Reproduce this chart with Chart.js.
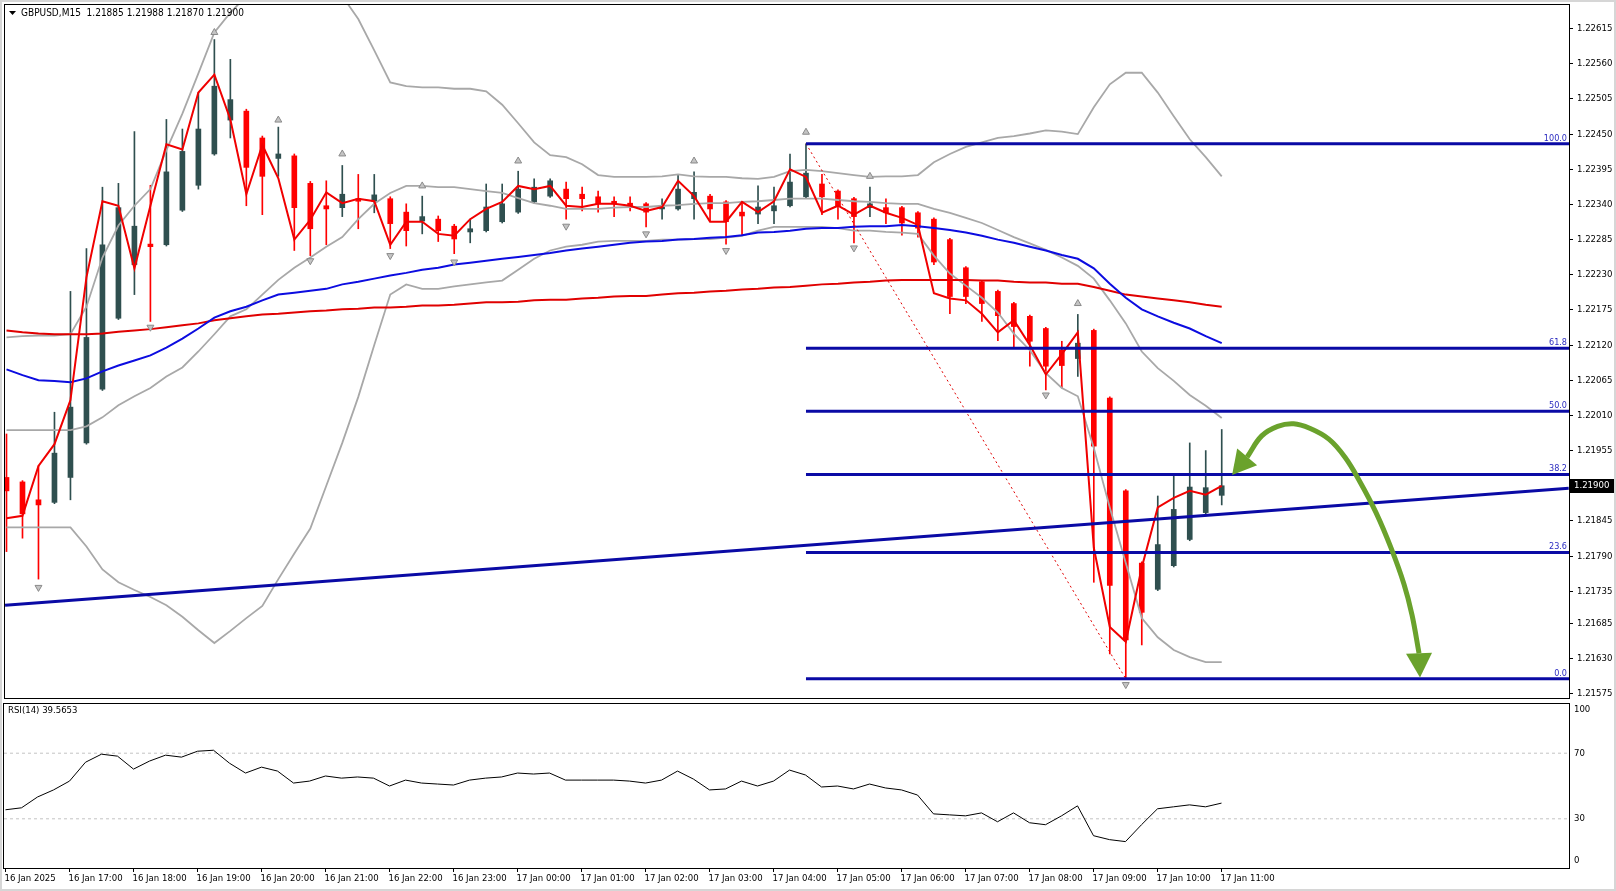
<!DOCTYPE html>
<html>
<head>
<meta charset="utf-8">
<title>GBPUSD,M15</title>
<script src="https://cdn.jsdelivr.net/npm/chart.js@4.4.1/dist/chart.umd.min.js"></script>
<style>
  html, body { margin: 0; padding: 0; background: #ffffff; }
  #wrap { position: relative; width: 1616px; height: 891px; overflow: hidden; background: #ffffff; }
  #main { position: absolute; left: 0; top: 0; }
  #rsi { position: absolute; left: 0; top: 702px; }
  #edge { position: absolute; left: 0; top: 0; width: 1612px; height: 887px; border: 2px solid #d6d6d6; pointer-events: none; }
</style>
</head>
<body>
<div id="wrap">
  <canvas id="main" width="1616" height="703"></canvas>
  <canvas id="rsi" width="1616" height="189"></canvas>
  <div id="edge"></div>
</div>
<script>
// GBPUSD M15, 16 Jan 16:00 .. 17 Jan 11:00 (77 bars)
const barOpen = [
  1.21913, 1.21906, 1.21878, 1.21874, 1.21913, 1.21967, 1.22051, 1.22162, 1.22246, 1.22278,
  1.22277, 1.22331, 1.22370, 1.22419, 1.22472, 1.22486, 1.22444, 1.22412, 1.22416, 1.22373,
  1.22338, 1.22335, 1.22349, 1.22345, 1.22349, 1.22328, 1.22314, 1.22317, 1.22306, 1.22297,
  1.22299, 1.22313, 1.22328, 1.22344, 1.22353, 1.22364, 1.22356, 1.22352, 1.22345, 1.22342,
  1.22341, 1.22333, 1.22333, 1.22349, 1.22353, 1.22344, 1.22328, 1.22325, 1.22330, 1.22338,
  1.22352, 1.22372, 1.22361, 1.22349, 1.22335, 1.22335, 1.22335, 1.22327, 1.22317, 1.22285,
  1.22241, 1.22219, 1.22204, 1.22185, 1.22165, 1.22146, 1.22112, 1.22099, 1.22143, 1.22037,
  1.21892, 1.21779, 1.21738, 1.21775, 1.21816, 1.21858, 1.21885
];
const barHigh = [
  1.21981, 1.21908, 1.21931, 1.22015, 1.22204, 1.22271, 1.22367, 1.22373, 1.22454, 1.22370,
  1.22473, 1.22458, 1.22515, 1.22598, 1.22567, 1.22489, 1.22447, 1.22461, 1.22419, 1.22376,
  1.22377, 1.22401, 1.22387, 1.22387, 1.22352, 1.22341, 1.22353, 1.22322, 1.22309, 1.22317,
  1.22372, 1.22372, 1.22392, 1.22380, 1.22380, 1.22375, 1.22367, 1.22361, 1.22352, 1.22352,
  1.22343, 1.22349, 1.22387, 1.22391, 1.22356, 1.22346, 1.22344, 1.22369, 1.22367, 1.22419,
  1.22435, 1.22387, 1.22363, 1.22351, 1.22367, 1.22349, 1.22337, 1.22329, 1.22319, 1.22287,
  1.22243, 1.22221, 1.22206, 1.22187, 1.22167, 1.22148, 1.22126, 1.22168, 1.22145, 1.22039,
  1.21894, 1.21781, 1.21884, 1.21916, 1.21967, 1.21955, 1.21988
];
const barLow = [
  1.21797, 1.21818, 1.21754, 1.21872, 1.21878, 1.21965, 1.22049, 1.22160, 1.22199, 1.22157,
  1.22275, 1.22329, 1.22364, 1.22417, 1.22444, 1.22338, 1.22324, 1.22384, 1.22268, 1.22260,
  1.22277, 1.22321, 1.22302, 1.22327, 1.22271, 1.22275, 1.22294, 1.22282, 1.22263, 1.22280,
  1.22297, 1.22311, 1.22326, 1.22342, 1.22351, 1.22317, 1.22330, 1.22328, 1.22321, 1.22330,
  1.22305, 1.22317, 1.22331, 1.22317, 1.22313, 1.22278, 1.22291, 1.22310, 1.22310, 1.22336,
  1.22350, 1.22324, 1.22317, 1.22280, 1.22321, 1.22310, 1.22292, 1.22289, 1.22246, 1.22169,
  1.22185, 1.22157, 1.22127, 1.22117, 1.22087, 1.22050, 1.22053, 1.22071, 1.21749, 1.21637,
  1.21598, 1.21651, 1.21736, 1.21773, 1.21814, 1.21853, 1.21870
];
const barClose = [
  1.21892, 1.21856, 1.21870, 1.21951, 1.22023, 1.22132, 1.22277, 1.22335, 1.22306, 1.22274,
  1.22391, 1.22423, 1.22458, 1.22525, 1.22504, 1.22398, 1.22384, 1.22419, 1.22335, 1.22302,
  1.22333, 1.22356, 1.22345, 1.22355, 1.22310, 1.22299, 1.22321, 1.22299, 1.22286, 1.22302,
  1.22336, 1.22341, 1.22364, 1.22367, 1.22377, 1.22349, 1.22349, 1.22341, 1.22341, 1.22338,
  1.22328, 1.22336, 1.22364, 1.22359, 1.22333, 1.22313, 1.22322, 1.22336, 1.22338, 1.22375,
  1.22389, 1.22352, 1.22338, 1.22321, 1.22341, 1.22327, 1.22311, 1.22303, 1.22250, 1.22196,
  1.22196, 1.22185, 1.22166, 1.22149, 1.22126, 1.22087, 1.22088, 1.22123, 1.21962, 1.21744,
  1.21659, 1.21702, 1.21808, 1.21863, 1.21898, 1.21897, 1.21900
];

// Bollinger bands (gray)
const bandUpper = [
  1.22132, 1.22134, 1.22135, 1.22135, 1.22137, 1.22180, 1.22257, 1.22307, 1.22338, 1.22364,
  1.22425, 1.22482, 1.22545, 1.22609, 1.22640, 1.22666, 1.22691, 1.22707, 1.22710, 1.22704,
  1.22688, 1.22666, 1.22630, 1.22581, 1.22531, 1.22525, 1.22523, 1.22523, 1.22521, 1.22521,
  1.22517, 1.22496, 1.22467, 1.22437, 1.22417, 1.22414, 1.22403, 1.22386, 1.22383, 1.22383,
  1.22383, 1.22384, 1.22387, 1.22384, 1.22383, 1.22383, 1.22381, 1.22380, 1.22383, 1.22392,
  1.22394, 1.22392, 1.22389, 1.22386, 1.22383, 1.22384, 1.22384, 1.22386, 1.22406, 1.22419,
  1.22430, 1.22437, 1.22444, 1.22447, 1.22451, 1.22456, 1.22454, 1.22450, 1.22492, 1.22528,
  1.22546, 1.22546, 1.22515, 1.22478, 1.22442, 1.22414, 1.22384
];
const bandMiddle = [
  1.21987, 1.21987, 1.21987, 1.21987, 1.21987, 1.21993, 1.22007, 1.22026, 1.22040, 1.22053,
  1.22071, 1.22085, 1.22110, 1.22137, 1.22165, 1.22176, 1.22199, 1.22222, 1.22241, 1.22257,
  1.22274, 1.22289, 1.22317, 1.22341, 1.22358, 1.22369, 1.22369, 1.22367, 1.22367, 1.22364,
  1.22361, 1.22358, 1.22350, 1.22342, 1.22338, 1.22333, 1.22333, 1.22333, 1.22335, 1.22336,
  1.22336, 1.22338, 1.22339, 1.22341, 1.22342, 1.22342, 1.22344, 1.22345, 1.22347, 1.22349,
  1.22349, 1.22349, 1.22347, 1.22345, 1.22344, 1.22342, 1.22341, 1.22341, 1.22333, 1.22327,
  1.22319, 1.22311, 1.22300, 1.22289, 1.22279, 1.22269, 1.22257, 1.22244, 1.22224, 1.22190,
  1.22154, 1.22110, 1.22084, 1.22064, 1.22042, 1.22025, 1.22006
];
const bandLower = [
  1.21835, 1.21835, 1.21835, 1.21835, 1.21835, 1.21805, 1.21769, 1.21749, 1.21737, 1.21726,
  1.21713, 1.21695, 1.21674, 1.21654, 1.21673, 1.21693, 1.21712, 1.21754, 1.21794, 1.21833,
  1.21900, 1.21967, 1.22039, 1.22120, 1.22199, 1.22215, 1.22208, 1.22208, 1.22212, 1.22215,
  1.22218, 1.22221, 1.22238, 1.22255, 1.22268, 1.22274, 1.22277, 1.22282, 1.22283, 1.22283,
  1.22283, 1.22285, 1.22285, 1.22286, 1.22286, 1.22288, 1.22291, 1.22299, 1.22305, 1.22305,
  1.22305, 1.22305, 1.22303, 1.22299, 1.22299, 1.22297, 1.22296, 1.22294, 1.22260, 1.22232,
  1.22213, 1.22194, 1.22171, 1.22138, 1.22112, 1.22076, 1.22053, 1.22040, 1.21959, 1.21866,
  1.21779, 1.21693, 1.21663, 1.21643, 1.21632, 1.21624, 1.21624
];

// moving averages
const maBlue = [
  1.22082, 1.22073, 1.22065, 1.22064, 1.22062, 1.22068, 1.22079, 1.22088, 1.22096, 1.22104,
  1.22116, 1.22130, 1.22146, 1.22163, 1.22173, 1.22180, 1.22190, 1.22199, 1.22202, 1.22205,
  1.22208, 1.22215, 1.22219, 1.22224, 1.22229, 1.22233, 1.22238, 1.22241, 1.22246, 1.22249,
  1.22252, 1.22255, 1.22258, 1.22261, 1.22264, 1.22268, 1.22271, 1.22274, 1.22277, 1.22280,
  1.22282, 1.22283, 1.22285, 1.22286, 1.22288, 1.22289, 1.22292, 1.22296, 1.22297, 1.22299,
  1.22302, 1.22303, 1.22303, 1.22305, 1.22306, 1.22306, 1.22308, 1.22306, 1.22303, 1.22300,
  1.22296, 1.22291, 1.22285, 1.22280, 1.22274, 1.22268, 1.22261, 1.22255, 1.22240, 1.22216,
  1.22194, 1.22176, 1.22165, 1.22155, 1.22146, 1.22134, 1.22123
];
const maRed = [
  1.22143, 1.22140, 1.22138, 1.22137, 1.22137, 1.22137, 1.22138, 1.22141, 1.22143, 1.22145,
  1.22148, 1.22151, 1.22154, 1.22159, 1.22162, 1.22165, 1.22168, 1.22169, 1.22171, 1.22173,
  1.22174, 1.22176, 1.22177, 1.22179, 1.22179, 1.22180, 1.22182, 1.22182, 1.22183, 1.22185,
  1.22187, 1.22187, 1.22188, 1.22190, 1.22191, 1.22191, 1.22193, 1.22194, 1.22196, 1.22197,
  1.22197, 1.22199, 1.22201, 1.22202, 1.22204, 1.22205, 1.22207, 1.22208, 1.22210, 1.22211,
  1.22213, 1.22215, 1.22216, 1.22218, 1.22219, 1.22221, 1.22222, 1.22222, 1.22222, 1.22222,
  1.22222, 1.22221, 1.22221, 1.22219, 1.22218, 1.22218, 1.22216, 1.22216, 1.22211, 1.22205,
  1.22199, 1.22196, 1.22193, 1.22190, 1.22187, 1.22183, 1.22180
];
const fastLine = [
  1.21849, 1.21853, 1.21931, 1.21965, 1.22034, 1.22226, 1.22345, 1.22338, 1.22240, 1.22338,
  1.22434, 1.22426, 1.22515, 1.22543, 1.22473, 1.22356, 1.22433, 1.22381, 1.22285, 1.22316,
  1.22359, 1.22342, 1.22349, 1.22345, 1.22277, 1.22313, 1.22313, 1.22294, 1.22291, 1.22317,
  1.22333, 1.22344, 1.22369, 1.22364, 1.22369, 1.22338, 1.22336, 1.22341, 1.22341, 1.22338,
  1.22330, 1.22336, 1.22377, 1.22353, 1.22313, 1.22313, 1.22344, 1.22328, 1.22345, 1.22395,
  1.22383, 1.22327, 1.22338, 1.22324, 1.22338, 1.22327, 1.22319, 1.22308, 1.22201, 1.22193,
  1.22190, 1.22169, 1.22140, 1.22159, 1.22120, 1.22074, 1.22106, 1.22140, 1.21803, 1.21679,
  1.21656, 1.21772, 1.21866, 1.21881, 1.21892, 1.21886, 1.21900
];

// fractals
const fractalUpBars = [13, 17, 21, 26, 32, 43, 50, 54, 67];
const fractalUpPrices = [1.22609, 1.22472, 1.22419, 1.22369, 1.22408, 1.22408, 1.22453, 1.22384, 1.22185];
const fractalDownBars = [2, 9, 19, 24, 28, 35, 40, 45, 53, 65, 70];
const fractalDownPrices = [1.21741, 1.22148, 1.22252, 1.22260, 1.22250, 1.22306, 1.22294, 1.22268, 1.22272, 1.22042, 1.21589];

// fibonacci retracement and trend line
const fiboLevels = [0, 23.6, 38.2, 50, 61.8, 100];
const fiboHighBar = 50;
const fiboHighPrice = 1.22435;
const fiboLowBar = 70;
const fiboLowPrice = 1.21598;
const trendBars = [-0.09, 97.7];
const trendPrices = [1.21713, 1.21896];

// green arrow
const arrowBars = [77.59, 78.5, 79.5, 80.5, 81.5, 82.7, 83.7, 84.65, 85.65, 86.6, 87.4, 87.9, 88.34];
const arrowPrices = [1.21945, 1.21978, 1.21993, 1.21997, 1.21990, 1.21973, 1.21945, 1.21906, 1.21858, 1.21802, 1.21746, 1.21698, 1.21638];
const arrowTips = [[76.65, 1.21917], [88.4, 1.21600]];
const arrowBases = [[77.59, 1.21945], [88.34, 1.21638]];

// RSI(14)
const rsiValues = [
  35.5, 36.7, 43.3, 47.6, 53.0, 64.5, 69.4, 68.2, 60.3, 65.2,
  68.8, 67.6, 71.2, 71.8, 63.9, 57.9, 61.5, 59.1, 51.8, 53.0,
  56.1, 54.8, 55.5, 54.8, 50.0, 53.6, 51.8, 51.2, 50.6, 53.6,
  54.8, 55.5, 57.9, 57.3, 57.9, 53.6, 53.6, 53.6, 53.6, 53.0,
  51.8, 53.6, 59.1, 54.2, 47.6, 48.2, 53.0, 50.0, 53.0, 59.7,
  56.7, 49.4, 50.0, 48.2, 51.2, 48.8, 47.6, 44.5, 33.0, 32.4,
  31.8, 33.6, 28.2, 33.6, 27.6, 26.4, 31.8, 37.9, 19.7, 17.3,
  16.1, 26.4, 36.1, 37.3, 38.5, 37.3, 39.5653
];
const rsiLevels = [70, 30];
const rsiTicks = [100, 70, 30, 0];

// axes
const priceTicks = [1.22615, 1.22560, 1.22505, 1.22450, 1.22395, 1.22340, 1.22285, 1.22230, 1.22175,
  1.22120, 1.22065, 1.22010, 1.21955, 1.21845, 1.21790, 1.21735, 1.21685, 1.21630, 1.21575];
const xTickBars = [0, 4, 8, 12, 16, 20, 24, 28, 32, 36, 40, 44, 48, 52, 56, 60, 64, 68, 72, 76];
const xTickLabels = ['16 Jan 2025', '16 Jan 17:00', '16 Jan 18:00', '16 Jan 19:00', '16 Jan 20:00',
  '16 Jan 21:00', '16 Jan 22:00', '16 Jan 23:00', '17 Jan 00:00', '17 Jan 01:00', '17 Jan 02:00',
  '17 Jan 03:00', '17 Jan 04:00', '17 Jan 05:00', '17 Jan 06:00', '17 Jan 07:00', '17 Jan 08:00',
  '17 Jan 09:00', '17 Jan 10:00', '17 Jan 11:00'];

document.addEventListener("DOMContentLoaded", function () {
  const X_MIN = -0.09375;
  const X_MAX = 97.71875;
  const FONT = "'DejaVu Sans Condensed', 'Liberation Sans', sans-serif";
  const fiboColor = "#0a0aa5";
  const bandColor = "#a8a8a8";

  Chart.defaults.font.family = FONT;
  Chart.defaults.font.size = 9.5;
  Chart.defaults.color = "#000000";

  const pts = (arr) => arr.map((v, i) => ({ x: i, y: v }));

  function lineSet(data, color, width, order, extra) {
    return Object.assign({
      type: "line",
      data: data,
      borderColor: color,
      borderWidth: width,
      pointRadius: 0,
      tension: 0,
      fill: false,
      order: order,
    }, extra || {});
  }

  const candleColors = barOpen.map((o, i) => (barClose[i] >= o ? "#2f4f4f" : "#ff0000"));

  // frame around plot area
  const framePlugin = {
    id: "frame",
    afterDraw(chart) {
      const a = chart.chartArea;
      const ctx = chart.ctx;
      ctx.save();
      ctx.strokeStyle = "#000000";
      ctx.lineWidth = 1;
      ctx.strokeRect(a.left - 0.5, a.top - 0.5, a.right - a.left + 1, a.bottom - a.top + 1);
      ctx.restore();
    },
  };

  const fiboPrice = (lvl) => fiboLowPrice + (fiboHighPrice - fiboLowPrice) * lvl / 100;

  const mainOverlay = {
    id: "mainOverlay",
    afterDraw(chart) {
      const ctx = chart.ctx;
      const a = chart.chartArea;
      const sx = chart.scales.x;
      const sy = chart.scales.y;
      ctx.save();

      // arrow heads
      ctx.fillStyle = "#6aa22c";
      arrowTips.forEach((tip, k) => {
        const base = arrowBases[k];
        const tx = sx.getPixelForValue(tip[0]), ty = sy.getPixelForValue(tip[1]);
        const bx = sx.getPixelForValue(base[0]), by = sy.getPixelForValue(base[1]);
        const dx = tx - bx, dy = ty - by;
        const len = Math.hypot(dx, dy);
        const nx = -dy / len, ny = dx / len;
        const half = 13;
        ctx.beginPath();
        ctx.moveTo(tx, ty);
        ctx.lineTo(bx + nx * half, by + ny * half);
        ctx.lineTo(bx - nx * half, by - ny * half);
        ctx.closePath();
        ctx.fill();
      });

      // fibo level texts
      ctx.font = "9px " + FONT;
      ctx.fillStyle = "#2b2bc0";
      ctx.textAlign = "right";
      ctx.textBaseline = "bottom";
      fiboLevels.forEach((lvl) => {
        const y = sy.getPixelForValue(fiboPrice(lvl));
        ctx.fillText(lvl.toFixed(1), a.right - 2, y - 1);
      });

      // current price box
      const last = barClose[barClose.length - 1];
      const py = Math.round(sy.getPixelForValue(last));
      ctx.fillStyle = "#000000";
      ctx.fillRect(a.right + 1, py - 7, 44, 14);
      ctx.fillStyle = "#ffffff";
      ctx.font = "9.5px " + FONT;
      ctx.textAlign = "left";
      ctx.textBaseline = "middle";
      ctx.fillText(last.toFixed(5), a.right + 5, py);

      // header
      const n = barClose.length - 1;
      ctx.fillStyle = "#000000";
      ctx.beginPath();
      ctx.moveTo(a.left + 4, a.top + 6);
      ctx.lineTo(a.left + 11, a.top + 6);
      ctx.lineTo(a.left + 7.5, a.top + 10);
      ctx.closePath();
      ctx.fill();
      ctx.font = "10px " + FONT;
      ctx.fillText("GBPUSD,M15  " + [barOpen[n], barHigh[n], barLow[n], barClose[n]].map((v) => v.toFixed(5)).join(" "),
        a.left + 16, a.top + 8);
      ctx.restore();
    },
  };

  const fiboSets = fiboLevels.map((lvl) =>
    lineSet([{ x: fiboHighBar, y: fiboPrice(lvl) }, { x: X_MAX + 1, y: fiboPrice(lvl) }], fiboColor, 3, 3)
  );

  new Chart(document.getElementById("main"), {
    type: "bar",
    data: {
      datasets: [
        {
          type: "bar",
          data: barHigh.map((h, i) => ({ x: i, y: [barLow[i], h] })),
          backgroundColor: candleColors,
          borderWidth: 0,
          barThickness: 1,
          grouped: false,
          order: 20,
        },
        {
          type: "bar",
          data: barOpen.map((o, i) => ({ x: i, y: [o, barClose[i]] })),
          backgroundColor: candleColors,
          borderWidth: 0,
          barThickness: 5,
          minBarLength: 1,
          grouped: false,
          order: 19,
        },
        lineSet(pts(bandUpper), bandColor, 1.8, 9),
        lineSet(pts(bandMiddle), bandColor, 1.8, 9),
        lineSet(pts(bandLower), bandColor, 1.8, 9),
        lineSet(pts(maRed), "#e00000", 2, 8),
        lineSet(pts(maBlue), "#0c0ce0", 2, 7),
        lineSet(pts(fastLine), "#f00000", 2, 6),
        lineSet([{ x: fiboHighBar, y: fiboHighPrice }, { x: fiboLowBar, y: fiboLowPrice }], "#e00000", 1, 4,
          { borderDash: [2, 3] }),
        lineSet(trendBars.map((b, i) => ({ x: b, y: trendPrices[i] })), fiboColor, 3, 3),
        ...fiboSets,
        lineSet(fractalUpBars.map((b, i) => ({ x: b, y: fractalUpPrices[i] })), "#8c8c8c", 1, 2, {
          showLine: false, pointStyle: "triangle", pointRadius: 4,
          pointBackgroundColor: "#c4c4c4", pointBorderColor: "#8a8a8a", pointBorderWidth: 1,
        }),
        lineSet(fractalDownBars.map((b, i) => ({ x: b, y: fractalDownPrices[i] })), "#8c8c8c", 1, 2, {
          showLine: false, pointStyle: "triangle", pointRadius: 4, pointRotation: 180,
          pointBackgroundColor: "#c4c4c4", pointBorderColor: "#8a8a8a", pointBorderWidth: 1,
        }),
        lineSet(arrowBars.map((b, i) => ({ x: b, y: arrowPrices[i] })), "#6aa22c", 5, 0, { tension: 0.4 }),
      ],
    },
    options: {
      responsive: false,
      animation: false,
      layout: { padding: { left: 4, top: 5, right: 0, bottom: 2 } },
      plugins: { legend: { display: false }, tooltip: { enabled: false } },
      scales: {
        x: { type: "linear", min: X_MIN, max: X_MAX, offset: false, display: false },
        y: {
          type: "linear",
          position: "right",
          min: 1.21568,
          max: 1.22652,
          beginAtZero: false,
          afterFit: (s) => { s.width = 47; s.paddingTop = 0; s.paddingBottom = 0; },
          afterBuildTicks: (s) => { s.ticks = priceTicks.map((v) => ({ value: v })); },
          ticks: { callback: (v) => Number(v).toFixed(5), padding: 4, color: "#000000" },
          grid: { drawOnChartArea: false, drawTicks: true, tickLength: 4, color: "#000000" },
          border: { color: "#000000" },
        },
      },
    },
    plugins: [framePlugin, mainOverlay],
  });

  const rsiOverlay = {
    id: "rsiOverlay",
    afterDraw(chart) {
      const ctx = chart.ctx;
      const a = chart.chartArea;
      const sy = chart.scales.y;
      ctx.save();
      ctx.fillStyle = "#000000";
      ctx.font = "9.5px " + FONT;
      ctx.textAlign = "left";
      ctx.textBaseline = "middle";
      ctx.fillText("RSI(14) " + rsiValues[rsiValues.length - 1].toFixed(4), a.left + 4, a.top + 7);
      rsiTicks.forEach((v) => {
        let y = sy.getPixelForValue(v);
        y = Math.min(Math.max(y, a.top + 6), a.bottom - 7);
        ctx.fillText(String(v), a.right + 5, y);
      });
      ctx.restore();
    },
  };

  new Chart(document.getElementById("rsi"), {
    type: "line",
    data: {
      datasets: [
        lineSet(pts(rsiValues), "#000000", 1, 1),
        ...rsiLevels.map((lvl) =>
          lineSet([{ x: X_MIN, y: lvl }, { x: X_MAX, y: lvl }], "#c4c4c4", 1, 2, { borderDash: [3, 3] })
        ),
      ],
    },
    options: {
      responsive: false,
      animation: false,
      layout: { padding: { left: 4, top: 2, right: 0, bottom: 0 } },
      plugins: { legend: { display: false }, tooltip: { enabled: false } },
      scales: {
        x: {
          type: "linear",
          min: X_MIN,
          max: X_MAX,
          offset: false,
          afterFit: (s) => { s.height = 23; s.paddingLeft = 0; s.paddingRight = 0; },
          afterBuildTicks: (s) => { s.ticks = xTickBars.map((v) => ({ value: v })); },
          ticks: {
            callback: (v, i) => xTickLabels[i],
            align: "start",
            autoSkip: false,
            maxRotation: 0,
            padding: 1,
            labelOffset: -1,
            color: "#000000",
          },
          grid: { drawOnChartArea: false, drawTicks: true, tickLength: 4, color: "#000000" },
          border: { color: "#000000" },
        },
        y: {
          type: "linear",
          position: "right",
          min: 0,
          max: 100,
          afterFit: (s) => { s.width = 47; s.paddingTop = 0; s.paddingBottom = 0; },
          ticks: { display: false },
          grid: { display: false },
          border: { color: "#000000" },
        },
      },
    },
    plugins: [framePlugin, rsiOverlay],
  });
});
</script>
</body>
</html>
